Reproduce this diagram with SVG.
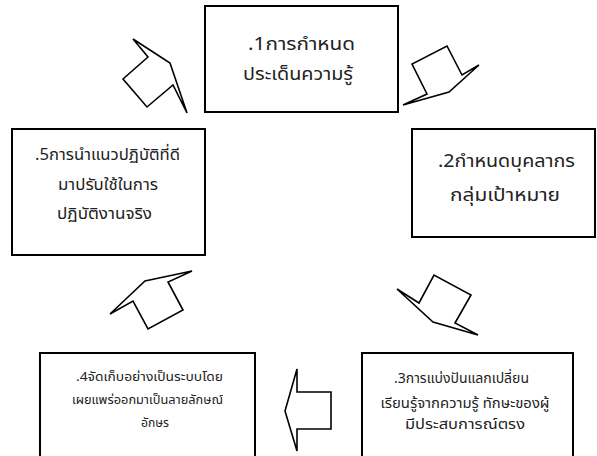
<svg xmlns="http://www.w3.org/2000/svg" width="597" height="456" viewBox="0 0 597 456">
<style>
.box{fill:#fff;stroke:#000;stroke-width:2}
.arr{fill:#fff;stroke:#000;stroke-width:1.6;stroke-linejoin:miter}
text{font-family:"Noto Sans Thai","Noto Sans","DejaVu Sans",sans-serif;fill:#222;text-anchor:middle}
.t18{font-size:18px}
.t16{font-size:16px}
.t14{font-size:14px}
.t13{font-size:13px}
</style>
<rect width="597" height="456" fill="#fff"/>
<g id="connectors">
<polygon class="arr" points="133,39 170,63 187,113 173,85 147,107 123,79 148,57"/>
<polygon class="arr" points="403,105 427,94 412,64 447,46 462,75 479,65 449,92"/>
<polygon class="arr" points="397,289 419,303 434,275 471,295 455,323 478,335 433,322"/>
<polygon class="arr" points="110,314 133,301 148,329 183,310 168,282 192,271 145,281"/>
<polygon class="arr" points="285,411 297,369 297,392 331,392 331,429 297,429 297,451"/>
</g>
<g id="node1">
<rect class="box" x="205" y="6" width="193" height="106"/>
<text class="t18" x="301.5" y="50" textLength="107" lengthAdjust="spacingAndGlyphs">.1การกำหนด</text>
<text class="t18" x="298" y="80" textLength="110" lengthAdjust="spacingAndGlyphs">ประเด็นความรู้</text>
</g>
<g id="node2">
<rect class="box" x="412" y="129" width="183" height="108"/>
<text class="t18" x="506.5" y="167" textLength="137" lengthAdjust="spacingAndGlyphs">.2กำหนดบุคลากร</text>
<text class="t18" x="505" y="201" textLength="110" lengthAdjust="spacingAndGlyphs">กลุ่มเป้าหมาย</text>
</g>
<g id="node3">
<rect class="box" x="362" y="353" width="211" height="110"/>
<text class="t14" x="461.5" y="383" textLength="135" lengthAdjust="spacingAndGlyphs">.3การแบ่งปันแลกเปลี่ยน</text>
<text class="t14" x="465" y="408" textLength="169" lengthAdjust="spacingAndGlyphs">เรียนรู้จากความรู้ ทักษะของผู้</text>
<text class="t14" x="465" y="429" textLength="120" lengthAdjust="spacingAndGlyphs">มีประสบการณ์ตรง</text>
</g>
<g id="node4">
<rect class="box" x="40" y="353" width="215" height="110"/>
<text class="t13" x="149.5" y="381" textLength="147" lengthAdjust="spacingAndGlyphs">.4จัดเก็บอย่างเป็นระบบโดย</text>
<text class="t13" x="147.5" y="404" textLength="151" lengthAdjust="spacingAndGlyphs">เผยแพร่ออกมาเป็นลายลักษณ์</text>
<text class="t13" x="155" y="427" textLength="28" lengthAdjust="spacingAndGlyphs">อักษร</text>
</g>
<g id="node5">
<rect class="box" x="12" y="129" width="193" height="126"/>
<text class="t16" x="107.5" y="160" textLength="145" lengthAdjust="spacingAndGlyphs">.5การนำแนวปฏิบัติที่ดี</text>
<text class="t16" x="108" y="190" textLength="100" lengthAdjust="spacingAndGlyphs">มาปรับใช้ในการ</text>
<text class="t16" x="104.5" y="219" textLength="95" lengthAdjust="spacingAndGlyphs">ปฏิบัติงานจริง</text>
</g>
</svg>
